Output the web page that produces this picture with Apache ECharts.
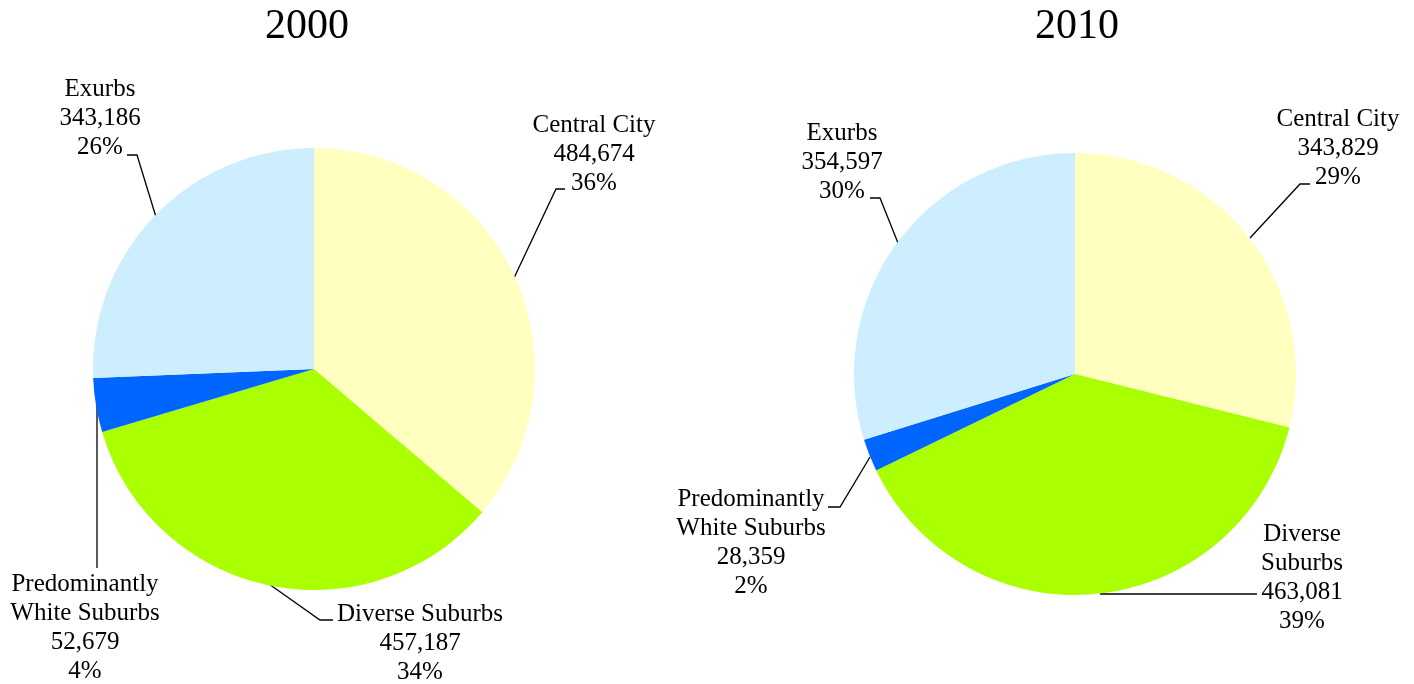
<!DOCTYPE html>
<html>
<head>
<meta charset="utf-8">
<script src="https://cdn.jsdelivr.net/npm/echarts@6/dist/echarts.min.js"></script>
<style>
  html, body { margin: 0; padding: 0; background: #fff; }
  #main { width: 1414px; height: 684px; }
</style>
</head>
<body>
<div id="main"></div>
<script>
// data
const categories = ['Central City', 'Diverse Suburbs', 'Predominantly White Suburbs', 'Exurbs'];
const values2000 = [484674, 457187, 52679, 343186];
const values2010 = [343829, 463081, 28359, 354597];
// label text as shown in the picture (line breaks differ per chart)
const labels2000 = ['Central City', 'Diverse Suburbs', 'Predominantly\nWhite Suburbs', 'Exurbs'];
const labels2010 = ['Central City', 'Diverse\nSuburbs', 'Predominantly\nWhite Suburbs', 'Exurbs'];
const colors = ['#FFFFC0', '#AAFF00', '#0066FF', '#CCEEFF'];

// label placement (pixels) for each slice, plus leader line bends
const place2000 = [
  { x: 594, y: 154, line: [[514, 278], [556, 189], [565, 189]] },
  { x: 420, y: 643, line: [[269, 584], [320, 620], [333, 620]] },
  { x: 85,  y: 628, line: [[97, 405], [97, 487], [97, 568]] },
  { x: 100, y: 118, line: [[156, 217], [137, 155], [127, 155]] }
];
const place2010 = [
  { x: 1338, y: 148, line: [[1250, 238], [1300, 184], [1310, 184]] },
  { x: 1302, y: 578, line: [[1100, 594], [1180, 594], [1257, 594]] },
  { x: 751,  y: 543, line: [[870, 457], [840, 507], [828, 507]] },
  { x: 842,  y: 162, line: [[898, 243], [880, 198], [870, 198]] }
];

const font = 'Liberation Serif, Times New Roman, serif';
const chart = echarts.init(document.getElementById('main'));

function makeSeries(values, labels, place, center) {
  return {
    type: 'pie',
    center: center,
    radius: 221,
    startAngle: 90,
    clockwise: true,
    silent: true,
    animation: false,
    emphasis: { disabled: true },
    itemStyle: { borderWidth: 0 },
    data: values.map((v, i) => ({
      name: categories[i],
      value: v,
      itemStyle: { color: colors[i] }
    })),
    label: {
      show: true,
      color: '#000',
      fontFamily: font,
      fontSize: 25,
      lineHeight: 29,
      align: 'center',
      overflow: 'none',
      bleedMargin: 0,
      edgeDistance: 0,
      formatter: p => labels[p.dataIndex] + '\n' +
        p.value.toLocaleString('en-US') + '\n' + Math.round(p.percent) + '%'
    },
    labelLine: {
      show: true,
      lineStyle: { color: '#000', width: 1.3 }
    },
    labelLayout: p => {
      const s = place[p.dataIndex];
      return {
        x: s.x, y: s.y,
        align: 'center', verticalAlign: 'middle',
        labelLinePoints: s.line
      };
    }
  };
}

chart.setOption({
  backgroundColor: '#fff',
  title: [
    { text: '2000', left: 302, top: 1, textAlign: 'center',
      textStyle: { fontFamily: font, fontSize: 42, fontWeight: 'normal', color: '#000' } },
    { text: '2010', left: 1072, top: 1, textAlign: 'center',
      textStyle: { fontFamily: font, fontSize: 42, fontWeight: 'normal', color: '#000' } }
  ],
  series: [
    makeSeries(values2000, labels2000, place2000, [314, 369]),
    makeSeries(values2010, labels2010, place2010, [1075, 374])
  ]
});
</script>
</body>
</html>
